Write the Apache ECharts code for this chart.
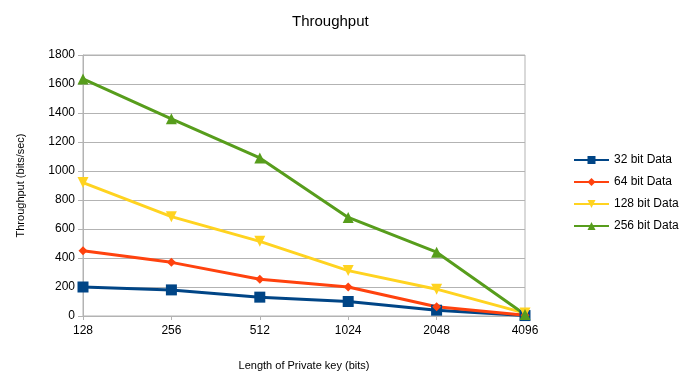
<!DOCTYPE html>
<html><head><meta charset="utf-8">
<script src="https://cdn.jsdelivr.net/npm/echarts@6/dist/echarts.min.js"></script>
<style>html,body{margin:0;padding:0;background:#fff}#c{width:695px;height:378px}</style>
</head><body><div id="c"></div>
<script>
const categories = ['128','256','512','1024','2048','4096'];
const seriesNames = ['32 bit Data','64 bit Data','128 bit Data','256 bit Data'];
const data32 = [200, 180, 130, 100, 40, 3];
const data64 = [450, 370, 253, 200, 64, 5];
const data128 = [920, 685, 515, 313, 185, 20];
const data256 = [1635, 1360, 1090, 680, 440, 10];
const colors = ['#004586','#ff420e','#ffd320','#579d1c'];
const symbols = ['rect','diamond','path://M0,0 L10,0 L5,9 Z','triangle'];
const symbolSizes = [11, 9, 11, 11];
const allData = [data32, data64, data128, data256];

const chart = echarts.init(document.getElementById('c'));
chart.setOption({
  animation:false,
  textStyle:{fontFamily:'Liberation Sans'},
  title:{text:'Throughput',left:287,top:9,textStyle:{fontSize:15,fontWeight:'normal',color:'#000',fontFamily:'Liberation Sans'}},
  grid:{left:83,right:170,top:55,bottom:62,show:true,borderColor:'#b3b3b3',borderWidth:1},
  legend:{orient:'vertical',left:568,top:149,itemWidth:35,itemHeight:10,itemGap:10,
    textStyle:{fontSize:12,color:'#000'},data:seriesNames},
  xAxis:{type:'category',data:categories,boundaryGap:false,
    name:'Length of Private key (bits)',nameLocation:'middle',nameGap:44,
    nameTextStyle:{fontSize:11,color:'#000'},
    axisLine:{lineStyle:{color:'#b3b3b3'}},axisTick:{show:true,length:4,lineStyle:{color:'#b3b3b3'}},
    axisLabel:{fontSize:12,color:'#000',margin:9},splitLine:{show:false}},
  yAxis:{type:'value',min:0,max:1800,interval:200,
    name:'Throughput (bits/sec)',nameLocation:'middle',nameGap:57,nameRotate:90,
    nameTextStyle:{fontSize:11,color:'#000'},
    axisLine:{show:true,lineStyle:{color:'#b3b3b3'}},axisTick:{show:true,length:5,inside:false,lineStyle:{color:'#b3b3b3'}},
    axisLabel:{fontSize:12,color:'#000',margin:8,formatter:v=>String(v)},splitLine:{lineStyle:{color:'#b3b3b3'}}},
  series: seriesNames.map((n,i)=>({
    name:n,type:'line',data:allData[i],symbol:symbols[i],symbolSize:symbolSizes[i],
    showAllSymbol:true,
    lineStyle:{color:colors[i],width:3},itemStyle:{color:colors[i]}
  }))
});
</script></body></html>
